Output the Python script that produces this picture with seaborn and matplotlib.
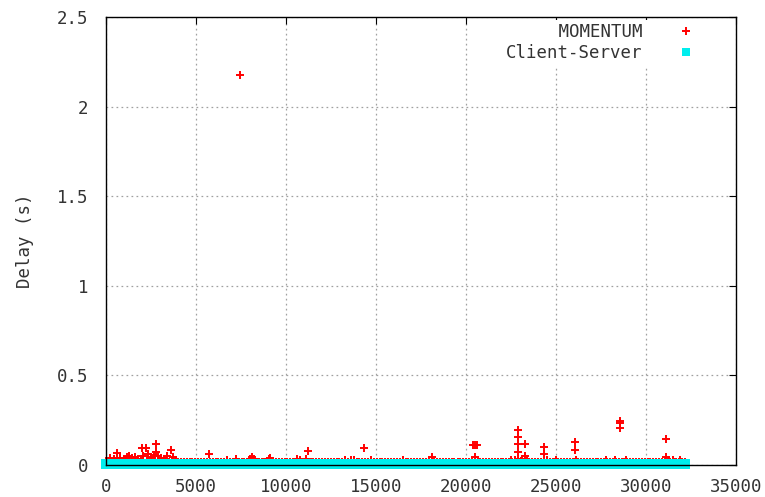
import matplotlib
matplotlib.use("Agg")
import matplotlib.pyplot as plt
import seaborn as sns
import pandas as pd
from matplotlib.lines import Line2D

# MOMENTUM: steady low-delay samples across the run
momentum_base_x = [
    0, 150, 320, 480, 640, 810, 960, 1120, 1290, 1440,
    1600, 1770, 1920, 2080, 2250, 2400, 2560, 2730, 2880, 3040,
    3210, 3360, 3520, 3690, 3840, 4000, 4170, 4320, 4480, 4650,
    4800, 4960, 5130, 5280, 5440, 5610, 5760, 5920, 6090, 6240,
    6400, 6570, 6720, 6880, 7050, 7200, 7360, 7530, 7680, 7840,
    8010, 8160, 8320, 8490, 8640, 8800, 8970, 9120, 9280, 9450,
    9600, 9760, 9930, 10080, 10240, 10410, 10560, 10720, 10890, 11040,
    11200, 11370, 11520, 11680, 11850, 12000, 12160, 12330, 12480, 12640,
    12810, 12960, 13120, 13290, 13440, 13600, 13770, 13920, 14080, 14250,
    14400, 14560, 14730, 14880, 15040, 15210, 15360, 15520, 15690, 15840,
    16000, 16170, 16320, 16480, 16650, 16800, 16960, 17130, 17280, 17440,
    17610, 17760, 17920, 18090, 18240, 18400, 18570, 18720, 18880, 19050,
    19200, 19360, 19530, 19680, 19840, 20010, 20160, 20320, 20490, 20640,
    20800, 20970, 21120, 21280, 21450, 21600, 21760, 21930, 22080, 22240,
    22410, 22560, 22720, 22890, 23040, 23200, 23370, 23520, 23680, 23850,
    24000, 24160, 24330, 24480, 24640, 24810, 24960, 25120, 25290, 25440,
    25600, 25770, 25920, 26080, 26250, 26400, 26560, 26730, 26880, 27040,
    27210, 27360, 27520, 27690, 27840, 28000, 28170, 28320, 28480, 28650,
    28800, 28960, 29130, 29280, 29440, 29610, 29760, 29920, 30090, 30240,
    30400, 30570, 30720, 30880, 31050, 31200, 31360, 31530, 31680, 31840,
    32010, 32150,
]
momentum_base_y = [
    0.020, 0.022, 0.019, 0.021, 0.020, 0.022, 0.020, 0.021, 0.022, 0.020,
    0.021, 0.022, 0.020, 0.021, 0.022, 0.020, 0.021, 0.022, 0.021, 0.020,
    0.021, 0.020, 0.019, 0.020, 0.019, 0.018, 0.019, 0.018, 0.019, 0.018,
    0.018, 0.019, 0.018, 0.018, 0.019, 0.018, 0.018, 0.019, 0.018, 0.018,
    0.019, 0.018, 0.018, 0.019, 0.018, 0.018, 0.019, 0.018, 0.018, 0.019,
    0.018, 0.018, 0.019, 0.018, 0.018, 0.019, 0.018, 0.018, 0.019, 0.018,
    0.018, 0.019, 0.018, 0.018, 0.019, 0.018, 0.018, 0.019, 0.018, 0.018,
    0.019, 0.018, 0.018, 0.019, 0.018, 0.018, 0.019, 0.018, 0.018, 0.019,
    0.018, 0.018, 0.019, 0.018, 0.018, 0.019, 0.018, 0.018, 0.019, 0.018,
    0.018, 0.019, 0.018, 0.018, 0.019, 0.018, 0.018, 0.019, 0.018, 0.018,
    0.019, 0.018, 0.018, 0.019, 0.018, 0.018, 0.019, 0.018, 0.018, 0.019,
    0.018, 0.018, 0.019, 0.018, 0.018, 0.019, 0.018, 0.018, 0.019, 0.018,
    0.018, 0.019, 0.018, 0.018, 0.019, 0.018, 0.018, 0.019, 0.018, 0.018,
    0.019, 0.018, 0.018, 0.019, 0.018, 0.018, 0.019, 0.018, 0.018, 0.019,
    0.018, 0.018, 0.019, 0.020, 0.020, 0.019, 0.020, 0.019, 0.018, 0.019,
    0.018, 0.018, 0.019, 0.018, 0.018, 0.019, 0.018, 0.018, 0.019, 0.018,
    0.018, 0.019, 0.018, 0.018, 0.019, 0.018, 0.018, 0.019, 0.018, 0.018,
    0.019, 0.018, 0.018, 0.019, 0.018, 0.018, 0.019, 0.018, 0.018, 0.019,
    0.018, 0.018, 0.019, 0.018, 0.018, 0.019, 0.018, 0.018, 0.019, 0.018,
    0.018, 0.019, 0.018, 0.018, 0.019, 0.018, 0.018, 0.019, 0.018, 0.018,
    0.019, 0.018,
]

# MOMENTUM: delay spikes
momentum_spike_x = [
    200, 420, 593, 750, 1000, 1150, 1300, 1450, 1600, 1750,
    1981, 2050, 2200, 2350, 2500, 2650, 2778, 2778, 2900, 3050,
    3200, 3400, 3611, 3700, 3900, 5740, 6700, 7200, 7444, 8000,
    8100, 8250, 9050, 9111, 10600, 10800, 11100, 11200, 13300, 13600,
    13800, 14352, 14700, 16500, 18130, 20400, 20500, 20600, 20500, 22500,
    22700, 22870, 22870, 22870, 22870, 22900, 23100, 23280, 23280, 24330,
    24330, 24500, 25000, 26056, 26056, 26100, 27800, 28300, 28556, 28556,
    28556, 28900, 31094, 31094, 31300, 31500, 31900,
]
momentum_spike_y = [
    0.040, 0.035, 0.065, 0.040, 0.035, 0.045, 0.050, 0.040, 0.045, 0.035,
    0.093, 0.050, 0.093, 0.060, 0.045, 0.055, 0.115, 0.074, 0.050, 0.040,
    0.035, 0.050, 0.084, 0.045, 0.030, 0.060, 0.030, 0.035, 2.175, 0.035,
    0.046, 0.035, 0.035, 0.040, 0.035, 0.030, 0.035, 0.078, 0.030, 0.030,
    0.030, 0.093, 0.030, 0.028, 0.045, 0.110, 0.110, 0.110, 0.046, 0.030,
    0.030, 0.195, 0.155, 0.115, 0.071, 0.035, 0.035, 0.117, 0.050, 0.102,
    0.060, 0.030, 0.030, 0.127, 0.084, 0.030, 0.030, 0.030, 0.245, 0.235,
    0.205, 0.030, 0.145, 0.046, 0.030, 0.030, 0.030,
]

# Client-Server: delay stays near zero for the whole run
client_server_x = [
    0, 400, 800, 1210, 1600, 2010, 2400, 2800, 3210, 3600,
    4000, 4410, 4800, 5200, 5610, 6000, 6400, 6810, 7200, 7600,
    8010, 8400, 8800, 9210, 9600, 10000, 10410, 10800, 11200, 11610,
    12000, 12400, 12810, 13200, 13600, 14010, 14400, 14800, 15210, 15600,
    16000, 16410, 16800, 17200, 17610, 18000, 18400, 18810, 19200, 19600,
    20010, 20400, 20800, 21210, 21600, 22000, 22410, 22800, 23200, 23610,
    24000, 24400, 24810, 25200, 25600, 26010, 26400, 26800, 27210, 27600,
    28000, 28410, 28800, 29200, 29610, 30000, 30400, 30810, 31200, 31600,
    32010, 32150,
]
client_server_y = [
    0.003, 0.003, 0.003, 0.003, 0.003, 0.003, 0.003, 0.003, 0.003, 0.003,
    0.003, 0.003, 0.003, 0.003, 0.003, 0.003, 0.003, 0.003, 0.003, 0.003,
    0.003, 0.003, 0.003, 0.003, 0.003, 0.003, 0.003, 0.003, 0.003, 0.003,
    0.003, 0.003, 0.003, 0.003, 0.003, 0.003, 0.003, 0.003, 0.003, 0.003,
    0.003, 0.003, 0.003, 0.003, 0.003, 0.003, 0.003, 0.003, 0.003, 0.003,
    0.003, 0.003, 0.003, 0.003, 0.003, 0.003, 0.003, 0.003, 0.003, 0.003,
    0.003, 0.003, 0.003, 0.003, 0.003, 0.003, 0.003, 0.003, 0.003, 0.003,
    0.003, 0.003, 0.003, 0.003, 0.003, 0.003, 0.003, 0.003, 0.003, 0.003,
    0.003, 0.003,
]

x_ticks = [0, 5000, 10000, 15000, 20000, 25000, 30000, 35000]
y_ticks = [0, 0.5, 1, 1.5, 2, 2.5]
y_tick_labels = ["0", "0.5", "1", "1.5", "2", "2.5"]

momentum = pd.DataFrame({
    "sample": momentum_base_x + momentum_spike_x,
    "delay": momentum_base_y + momentum_spike_y,
})
client_server = pd.DataFrame({"sample": client_server_x, "delay": client_server_y})

sns.set_style("white")
plt.rcParams["font.family"] = ["DejaVu Sans Mono", "DejaVu Sans"]
FS = 12.5
TEXT = "#333333"

fig = plt.figure(figsize=(7.65, 4.97), dpi=100)
ax = fig.add_axes([106 / 765, 1 - 465 / 497, 630 / 765, 448 / 497])

red = "#ff0000"
cyan = "#00eeee"

sns.scatterplot(data=momentum, x="sample", y="delay", ax=ax, marker="+",
                color=red, s=30, linewidth=1.4, clip_on=False, zorder=2.1,
                legend=False)
sns.scatterplot(data=client_server, x="sample", y="delay", ax=ax, marker="s",
                color=cyan, edgecolor=cyan, s=42, linewidth=0, clip_on=False,
                zorder=2.2, legend=False)

ax.set_xlim(0, 35000)
ax.set_ylim(0, 2.5)
ax.set_xticks(x_ticks)
ax.set_xticklabels([str(t) for t in x_ticks])
ax.set_yticks(y_ticks)
ax.set_yticklabels(y_tick_labels)

ax.grid(True, color="#a0a0a0", linestyle=(0, (1.4, 2.6)), linewidth=0.9)
ax.set_axisbelow(True)

for side in ["left", "right", "top", "bottom"]:
    ax.spines[side].set_visible(True)
    ax.spines[side].set_color("black")
    ax.spines[side].set_linewidth(1.0)

ax.tick_params(direction="in", length=5, width=0.8, top=True, right=True,
               labelsize=FS, colors="black", labelcolor=TEXT)
ax.tick_params(axis="y", pad=13)
ax.tick_params(axis="x", pad=9)

ax.set_xlabel("")
ax.set_ylabel("Delay (s)", fontsize=FS, labelpad=16, color=TEXT)

handles = [
    Line2D([], [], linestyle="none", marker="+", color=red, markersize=6,
           markeredgewidth=1.4),
    Line2D([], [], linestyle="none", marker="s", color=cyan, markersize=6.3,
           markeredgewidth=0),
]
labels = ["     MOMENTUM", "Client-Server"]
leg = ax.legend(handles, labels, loc="upper right", markerfirst=False,
                bbox_to_anchor=(698 / 765, 1 - 20 / 497),
                bbox_transform=fig.transFigure, frameon=True, fancybox=False,
                framealpha=1, edgecolor="none", facecolor="white",
                fontsize=FS, handlelength=1.0, handletextpad=2.0,
                labelspacing=0.15, borderpad=0.2, borderaxespad=0)
for t in leg.get_texts():
    t.set_color(TEXT)

fig.savefig("out.png", dpi=100)
